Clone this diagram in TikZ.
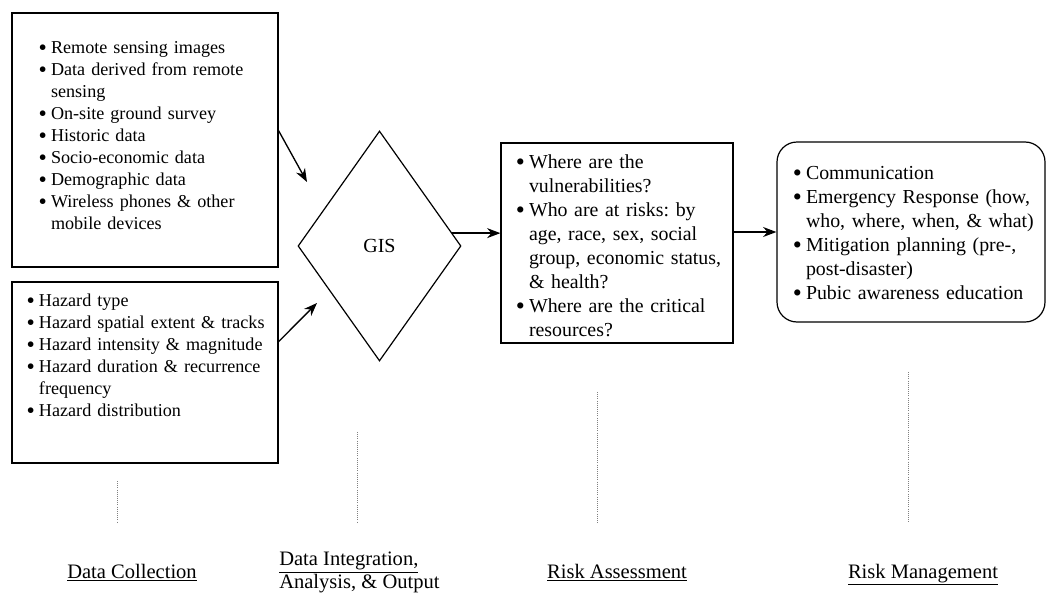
\documentclass[tikz,border=0pt]{standalone}
\usepackage{fontspec}
\setmainfont{Liberation Serif}
\usepackage{enumitem}
\usetikzlibrary{shapes.geometric,arrows.meta}
\frenchspacing
\newcommand{\blist}[2]{\begin{itemize}[nosep,leftmargin=#1,labelsep=3pt,label={\raisebox{-0.25ex}{\scalebox{1.3}{\textbullet}}}]#2\end{itemize}}
\begin{document}
\begin{tikzpicture}[x=0.75pt,y=-0.75pt,
        box/.style={draw,line width=0.9pt,rectangle,inner sep=0pt,align=left},
        small/.style={font=\fontsize{13.6}{16.5}\selectfont},
        big/.style={font=\fontsize{14.9}{18}\selectfont},
        gisst/.style={draw,line width=0.9pt,diamond,inner sep=0pt,minimum width=122.25pt,minimum height=172.5pt,font=\fontsize{15}{18}\selectfont},
        arr/.style={line width=1pt,-{Stealth[length=10pt,width=7.5pt]}},
        guide/.style={gray,densely dotted,line width=0.6pt},
        stage/.style={inner sep=0pt,font=\fontsize{15.4}{16}\selectfont}]
    \useasboundingbox (0,0) rectangle (1048,592);
    \node[box,small,text width=199.5pt,text height=13.7pt,text depth=176.8pt] (sources) at (145,140)
        {\blist{29.25pt}{\item Remote sensing images
            \item Data derived from remote\\sensing
            \item On-site ground survey
            \item Historic data
            \item Socio-economic data
            \item Demographic data
            \item Wireless phones \& other\\mobile devices}};
    \node[box,small,text width=199.5pt,text height=2pt,text depth=133.75pt] (hazards) at (145,372.5)
        {\blist{20.25pt}{\item Hazard type
            \item Hazard spatial extent \& tracks
            \item Hazard intensity \& magnitude
            \item Hazard duration \& recurrence\\frequency
            \item Hazard distribution}};
    \node[gisst] (gis) at (379.5,246) {GIS};
    \node[box,big,text width=174pt,text height=1pt,text depth=149pt] (assess) at (617,243)
        {\blist{21pt}{\item Where are the\\vulnerabilities?
            \item Who are at risks: by\\age, race, sex, social\\group, economic status,\\\& health?
            \item Where are the critical\\resources?}};
    \node[box,big,rounded corners=15pt,text width=201pt,text height=10pt,text depth=125pt] (manage) at (911,232)
        {\blist{21.75pt}{\item Communication
            \item Emergency Response (how,\\who, where, when, \& what)
            \item Mitigation planning (pre-,\\post-disaster)
            \item Pubic awareness education}};
    \coordinate (in1) at (307,182);
    \coordinate (in2) at (317,303);
    \draw[arr] (sources.4) -- (in1);
    \draw[arr] (hazards.13) -- (in2);
    \draw[arr] (gis.10) -- (gis.10 -| assess.west);
    \draw[arr] (manage.west -| assess.east) -- (manage.west);
    \foreach \gx/\gy in {117/481,357/432,597/392,908/372}
        \draw[guide] (\gx,\gy) -- (\gx,523);
    \node[stage,anchor=base] (collect) at (132,578) {\underline{Data Collection}};
    \node[stage,anchor=north west,align=left] (integrate) at (279,552) {\underline{Data Integration,}\\Analysis, \& Output};
    \node[stage,anchor=base] (assessLab) at (617,578) {\underline{Risk Assessment}};
    \node[stage,anchor=base] (manageLab) at (923,578) {\underline{Risk Management}};
\end{tikzpicture}
\end{document}
